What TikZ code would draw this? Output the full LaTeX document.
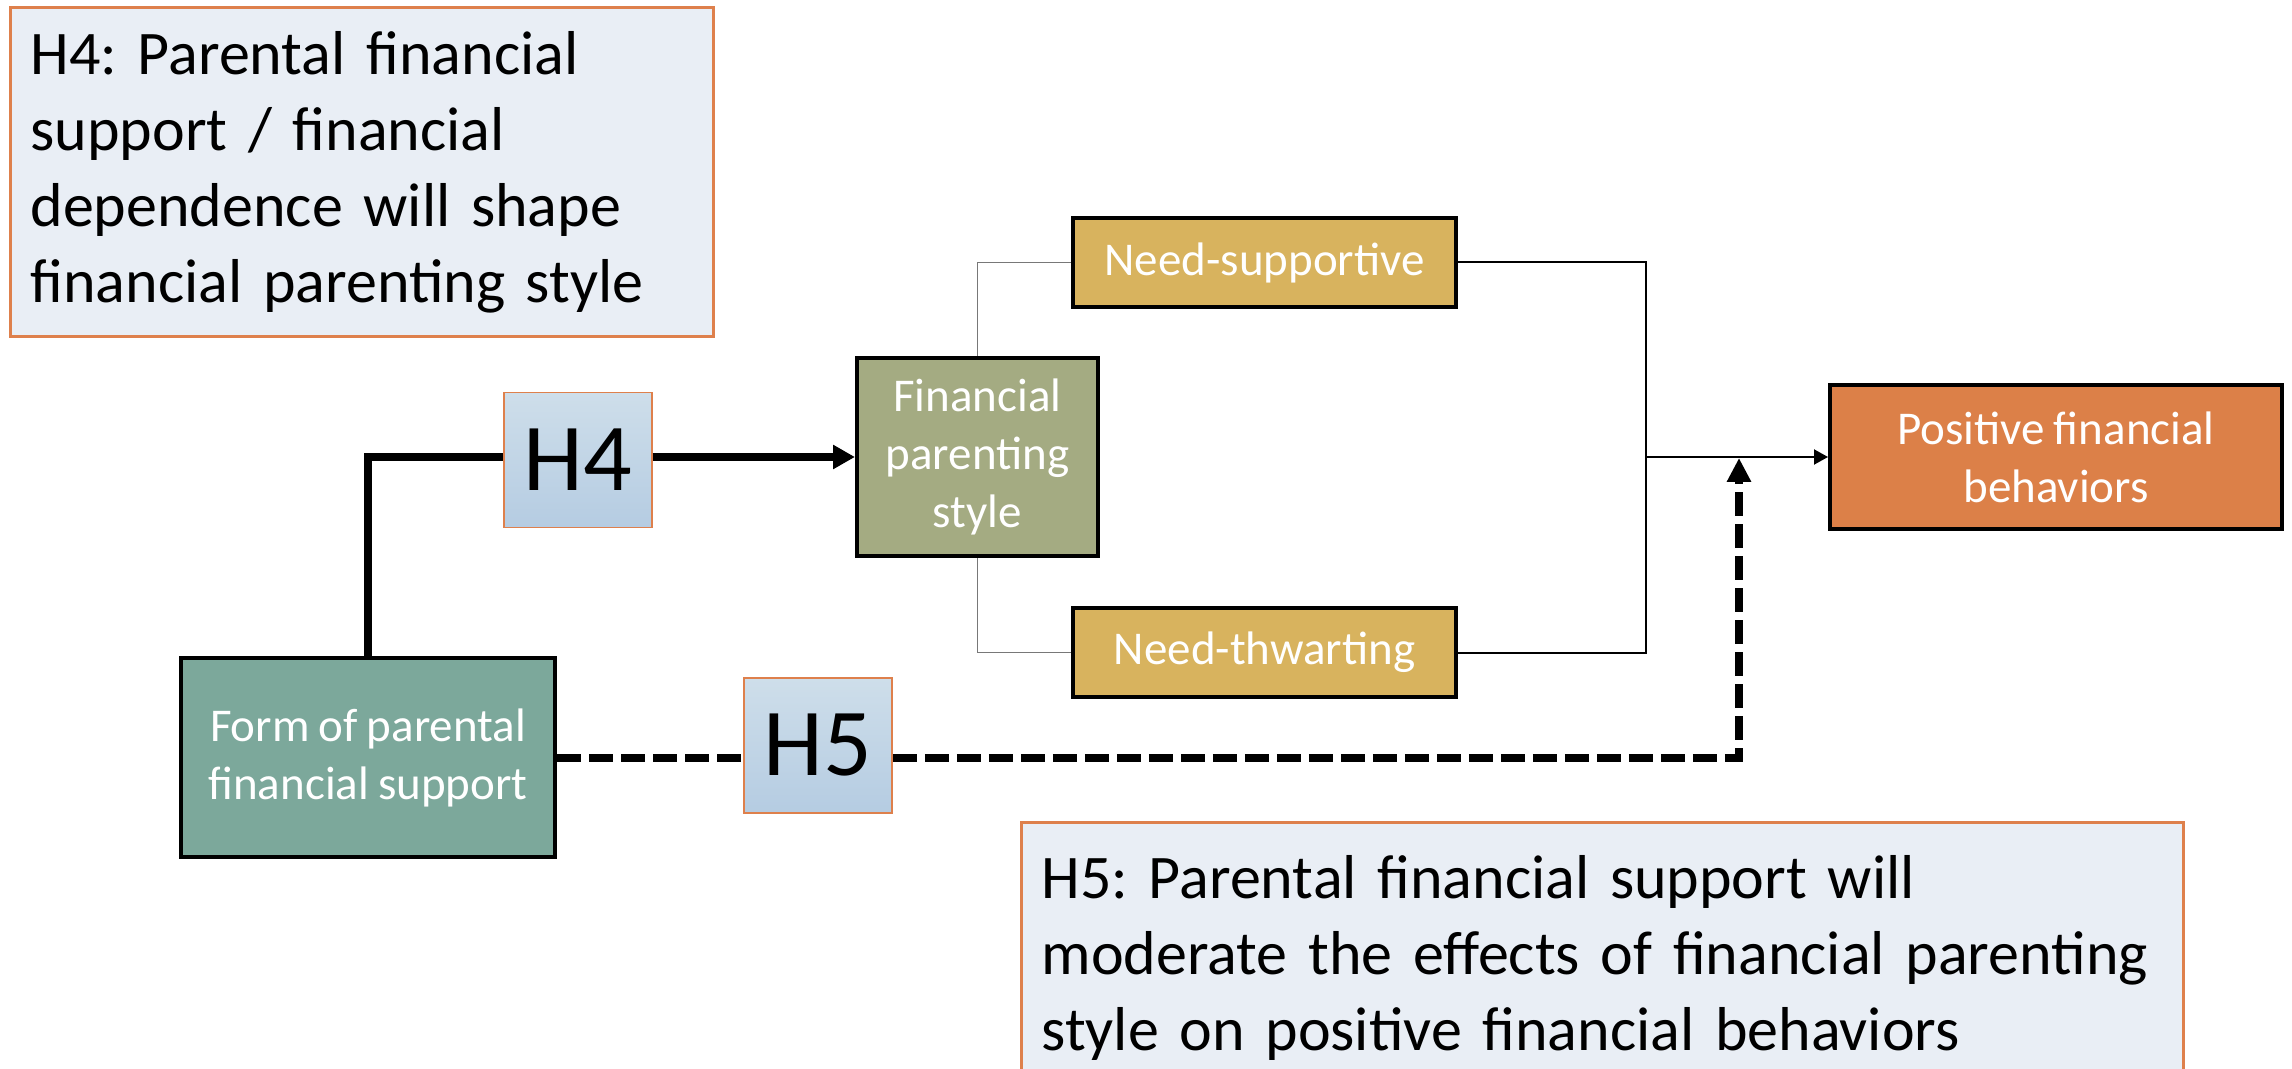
\documentclass[tikz,border=0pt]{standalone}
\usepackage{fontspec}
\setmainfont{Carlito}[WordSpace=0.85]
\usetikzlibrary{arrows.meta}
\frenchspacing

\definecolor{noteFill}{RGB}{233,238,245}
\definecolor{noteEdge}{RGB}{222,128,76}
\definecolor{tagTop}{RGB}{206,222,234}
\definecolor{tagBot}{RGB}{181,204,226}
\definecolor{styleFill}{RGB}{164,171,130}
\definecolor{needFill}{RGB}{216,179,94}
\definecolor{outFill}{RGB}{220,128,72}
\definecolor{formFill}{RGB}{124,168,155}
\definecolor{thinGray}{RGB}{120,120,120}

\begin{document}
\begin{tikzpicture}[x=0.5pt,y=-0.5pt,
  note/.style={draw=noteEdge,line width=1.5pt,fill=noteFill,align=left,
    font=\fontsize{31}{38}\selectfont,inner xsep=10pt,inner ysep=0pt,anchor=north west},
  box/.style={draw=black,line width=2pt,text=white,align=center,
    font=\fontsize{23.5}{29}\selectfont,inner sep=0pt},
  tag/.style={draw=noteEdge,line width=0.75pt,top color=tagTop,bottom color=tagBot,
    minimum width=74pt,minimum height=67.5pt,font=\fontsize{48}{50}\selectfont,inner sep=0pt},
  boldline/.style={line width=4pt},
  dashline/.style={line width=4pt,dash pattern=on 12pt off 4pt},
  grayline/.style={draw=thinGray,line width=0.75pt},
  joinline/.style={draw=black,line width=1pt},
]
\useasboundingbox (0,0) rectangle (2292,1069);
\clip (0,0) rectangle (2292,1069);

% hypothesis notes
\node[note,text width=331.5pt,minimum height=164.5pt] (h4note) at (9,6)
  {H4: Parental financial\\support / financial\\dependence will shape\\financial parenting style};
\node[note,text width=561pt,minimum height=135pt] (h5note) at (1020,821)
  {H5: Parental financial support will\\moderate the effects of financial parenting\\style on positive financial behaviors};

% model boxes
\node[box,fill=formFill,minimum width=187pt,minimum height=99.5pt] (form) at (368,757.5)
  {Form of parental\\financial support};
\node[box,fill=styleFill,minimum width=120.5pt,minimum height=99pt] (style) at (977.5,457)
  {Financial\\parenting\\style};
\node[box,fill=needFill,minimum width=191.5pt,minimum height=44.5pt] (sup) at (1264.5,262.5)
  {Need-supportive};
\node[box,fill=needFill,minimum width=191.5pt,minimum height=44.5pt] (thw) at (1264.5,652.5)
  {Need-thwarting};
\node[box,fill=outFill,minimum width=226pt,minimum height=72pt] (pos) at (2056,457)
  {Positive financial\\behaviors};

% hypothesis tags
\node[tag] (h4tag) at (578,460) {H4};
\node[tag] (h5tag) at (818,745.5) {H5};

% H4 path
\draw[boldline] (form.north) |- (h4tag.west |- style.west);
\draw[boldline,-{Triangle[length=11pt,width=11.5pt]}] (h4tag.east |- style.west) -- (style.west);

% parenting style branches
\draw[grayline] (style.north) |- (sup.west);
\draw[grayline] (style.south) |- (thw.west);

\coordinate (join) at (1646,457);
\draw[joinline] (sup.east) -| (join);
\draw[joinline] (thw.east) -| (join);
\draw[joinline,-{Triangle[length=7pt,width=7.5pt]}] (join) -- (pos.west);

% H5 moderation path
\coordinate (modEnd) at (1739,458);
\draw[dashline] (form.east) -- (form.east -| h5tag.west);
\draw[dashline] (h5tag.east |- form.east) -| ([yshift=-8pt]modEnd);
\draw[line width=4pt,-{Triangle[length=12pt,width=11.5pt]}] ([yshift=-7.5pt]modEnd) -- (modEnd);
\end{tikzpicture}
\end{document}
